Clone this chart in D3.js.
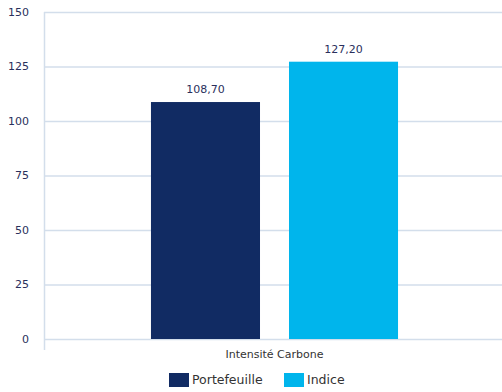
<!DOCTYPE html>
<html>
<head>
<meta charset="utf-8">
<script src="https://cdn.jsdelivr.net/npm/d3@7"></script>
<style>
  body { margin: 0; background: #fff; }
  text { font-family: "DejaVu Sans", Verdana, sans-serif; }
</style>
</head>
<body>
<div id="my_dataviz"></div>
<script>
const categories = ["Intensité Carbone"];
const series = ["Portefeuille", "Indice"];
const values = [108.70, 127.20];
const yTicks = [0, 25, 50, 75, 100, 125, 150];
const colors = ["#112b63", "#00b5ec"];

const width = 502, height = 392;
const margin = {top: 12, right: 0, bottom: 53, left: 44};

const svg = d3.select("#my_dataviz")
  .append("svg")
  .attr("width", width)
  .attr("height", height);

// y scale
const y = d3.scaleLinear()
  .domain([0, 150])
  .range([height - margin.bottom, margin.top]);

// x scales: one category, two bars inside
const x0 = d3.scaleBand()
  .domain(categories)
  .range([margin.left, 505]);

const x1 = d3.scaleBand()
  .domain(series)
  .range([0, x0.bandwidth()])
  .paddingInner(0.21)
  .paddingOuter(0.775);

// grid lines
svg.append("g")
  .selectAll("line")
  .data(yTicks)
  .join("line")
    .attr("x1", margin.left)
    .attr("x2", width)
    .attr("y1", d => y(d) + 0.5)
    .attr("y2", d => y(d) + 0.5)
    .attr("stroke", "#d3deeb")
    .attr("stroke-width", 1.5);

// y axis line
svg.append("line")
  .attr("x1", margin.left + 0.5)
  .attr("x2", margin.left + 0.5)
  .attr("y1", margin.top)
  .attr("y2", y(0) + 11)
  .attr("stroke", "#d3deeb")
  .attr("stroke-width", 1.5);

// y tick labels
svg.append("g")
  .selectAll("text")
  .data(yTicks)
  .join("text")
    .attr("x", 29)
    .attr("y", d => y(d))
    .attr("dy", "0.35em")
    .attr("text-anchor", "end")
    .attr("font-size", 11)
    .attr("fill", "#2a2f5c")
    .text(d => d);

// bars
const barData = series.map((s, i) => ({name: s, value: values[i], color: colors[i]}));
const g = svg.append("g")
  .attr("transform", `translate(${x0(categories[0])},0)`);

g.selectAll("rect")
  .data(barData)
  .join("rect")
    .attr("x", d => x1(d.name))
    .attr("y", d => y(d.value))
    .attr("width", x1.bandwidth())
    .attr("height", d => y(0) - y(d.value))
    .attr("fill", d => d.color);

// value labels
g.selectAll("text")
  .data(barData)
  .join("text")
    .attr("x", d => x1(d.name) + x1.bandwidth() / 2)
    .attr("y", d => y(d.value) - 9)
    .attr("text-anchor", "middle")
    .attr("font-size", 11)
    .attr("fill", "#2a2f5c")
    .text(d => d3.format(".2f")(d.value).replace(".", ","));

// category label
svg.append("text")
  .attr("x", x0(categories[0]) + x0.bandwidth() / 2)
  .attr("y", 358)
  .attr("text-anchor", "middle")
  .attr("font-size", 11)
  .attr("fill", "#333")
  .text(categories[0]);

// legend
const legendX = [169, 284];
const legend = svg.append("g")
  .selectAll("g")
  .data(barData)
  .join("g")
    .attr("transform", (d, i) => `translate(${legendX[i]},373)`);

legend.append("rect")
  .attr("width", 20)
  .attr("height", 14)
  .attr("fill", d => d.color);

legend.append("text")
  .attr("x", 23)
  .attr("y", 7)
  .attr("dy", "0.35em")
  .attr("font-size", 12.5)
  .attr("fill", "#333")
  .text(d => d.name);
</script>
</body>
</html>
